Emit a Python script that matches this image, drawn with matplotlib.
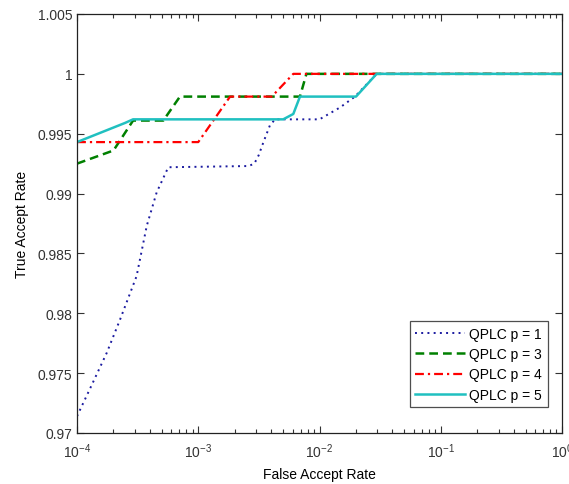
import matplotlib
matplotlib.use("Agg")
import matplotlib.pyplot as plt
from matplotlib.ticker import FixedLocator, LogLocator, FuncFormatter, NullFormatter

plt.rcParams['font.family'] = ['Liberation Sans', 'DejaVu Sans']
plt.rcParams['mathtext.fontset'] = 'custom'
plt.rcParams['mathtext.rm'] = 'Liberation Sans'

# Data (FAR, TAR)
x_p1 = [1e-4, 1.28e-4, 1.76e-4, 2.27e-4, 3.1e-4, 3.76e-4, 4.54e-4, 5.66e-4,
        2.6e-3, 2.9e-3, 3.15e-3, 3.45e-3, 3.9e-3, 4.3e-3, 1.0e-2, 1.48e-2,
        1.96e-2, 2.96e-2, 1.0]
y_p1 = [0.9714, 0.9737, 0.9767, 0.9795, 0.9831, 0.9873, 0.9901, 0.9922,
        0.9923, 0.9925, 0.9932, 0.9943, 0.9957, 0.9962, 0.9962, 0.9972,
        0.9981, 1.0, 1.0]

x_p3 = [1e-4, 2.0e-4, 2.9e-4, 5.15e-4, 7.06e-4, 6.9e-3, 7.8e-3, 1.0]
y_p3 = [0.9925, 0.9936, 0.9961, 0.9961, 0.9981, 0.9981, 1.0, 1.0]

x_p4 = [1e-4, 1.0e-3, 1.83e-3, 4.04e-3, 6.08e-3, 1.0]
y_p4 = [0.9943, 0.9943, 0.9981, 0.9981, 1.0, 1.0]

x_p5 = [1e-4, 2.49e-4, 2.9e-4, 5.02e-3, 6.08e-3, 6.9e-3, 0.02, 0.0296, 1.0]
y_p5 = [0.9943, 0.9959, 0.9962, 0.9962, 0.99665, 0.9981, 0.9981, 1.0, 1.0]

labels = ['QPLC p = 1', 'QPLC p = 3', 'QPLC p = 4', 'QPLC p = 5']
y_ticks = [0.97, 0.975, 0.98, 0.985, 0.99, 0.995, 1.0, 1.005]

fig = plt.figure(figsize=(5.69, 4.85), dpi=100)
ax = fig.add_axes([77/569, 51/485, 485/569, 419/485])

ax.plot(x_p1, y_p1, color='#1a1aa0', linestyle=(0, (1, 2.2)), lw=1.4, label=labels[0])
ax.plot(x_p3, y_p3, color='#008000', linestyle=(0, (3.5, 2)), lw=1.8, label=labels[1])
ax.plot(x_p4, y_p4, color='#ff0000', linestyle=(0, (4, 1.8, 1, 1.8)), lw=1.6, label=labels[2])
ax.plot(x_p5, y_p5, color='#20c0c0', linestyle='-', lw=1.8, label=labels[3])

ax.set_xscale('log')
ax.set_xlim(1e-4, 1)
ax.set_ylim(0.97, 1.005)
ax.yaxis.set_major_locator(FixedLocator(y_ticks))
ax.yaxis.set_major_formatter(FuncFormatter(lambda v, p: '%g' % round(v, 4)))
ax.xaxis.set_major_locator(LogLocator(base=10, numticks=10))
ax.xaxis.set_minor_locator(LogLocator(base=10, subs=range(2, 10), numticks=10))
ax.xaxis.set_minor_formatter(NullFormatter())

ax.tick_params(which='both', direction='in', top=True, right=True, labelsize=10, colors='#333333')
ax.tick_params(which='major', length=5, width=0.8)
ax.tick_params(which='minor', length=3, width=0.8)
ax.tick_params(axis='x', pad=6)
for s in ax.spines.values():
    s.set_linewidth(0.9)
    s.set_color('#222222')

ax.set_xlabel('False Accept Rate', fontsize=10, labelpad=5)
ax.set_ylabel('True Accept Rate', fontsize=10, labelpad=6)

leg = ax.legend(loc='lower right', bbox_to_anchor=(0.985, 0.045), fontsize=10,
                frameon=True, fancybox=False, edgecolor='#222222', handlelength=3.6,
                handletextpad=0.3, borderpad=0.4, labelspacing=0.45, markerfirst=True)
leg.get_frame().set_linewidth(0.9)

fig.savefig('out.png', dpi=100)
